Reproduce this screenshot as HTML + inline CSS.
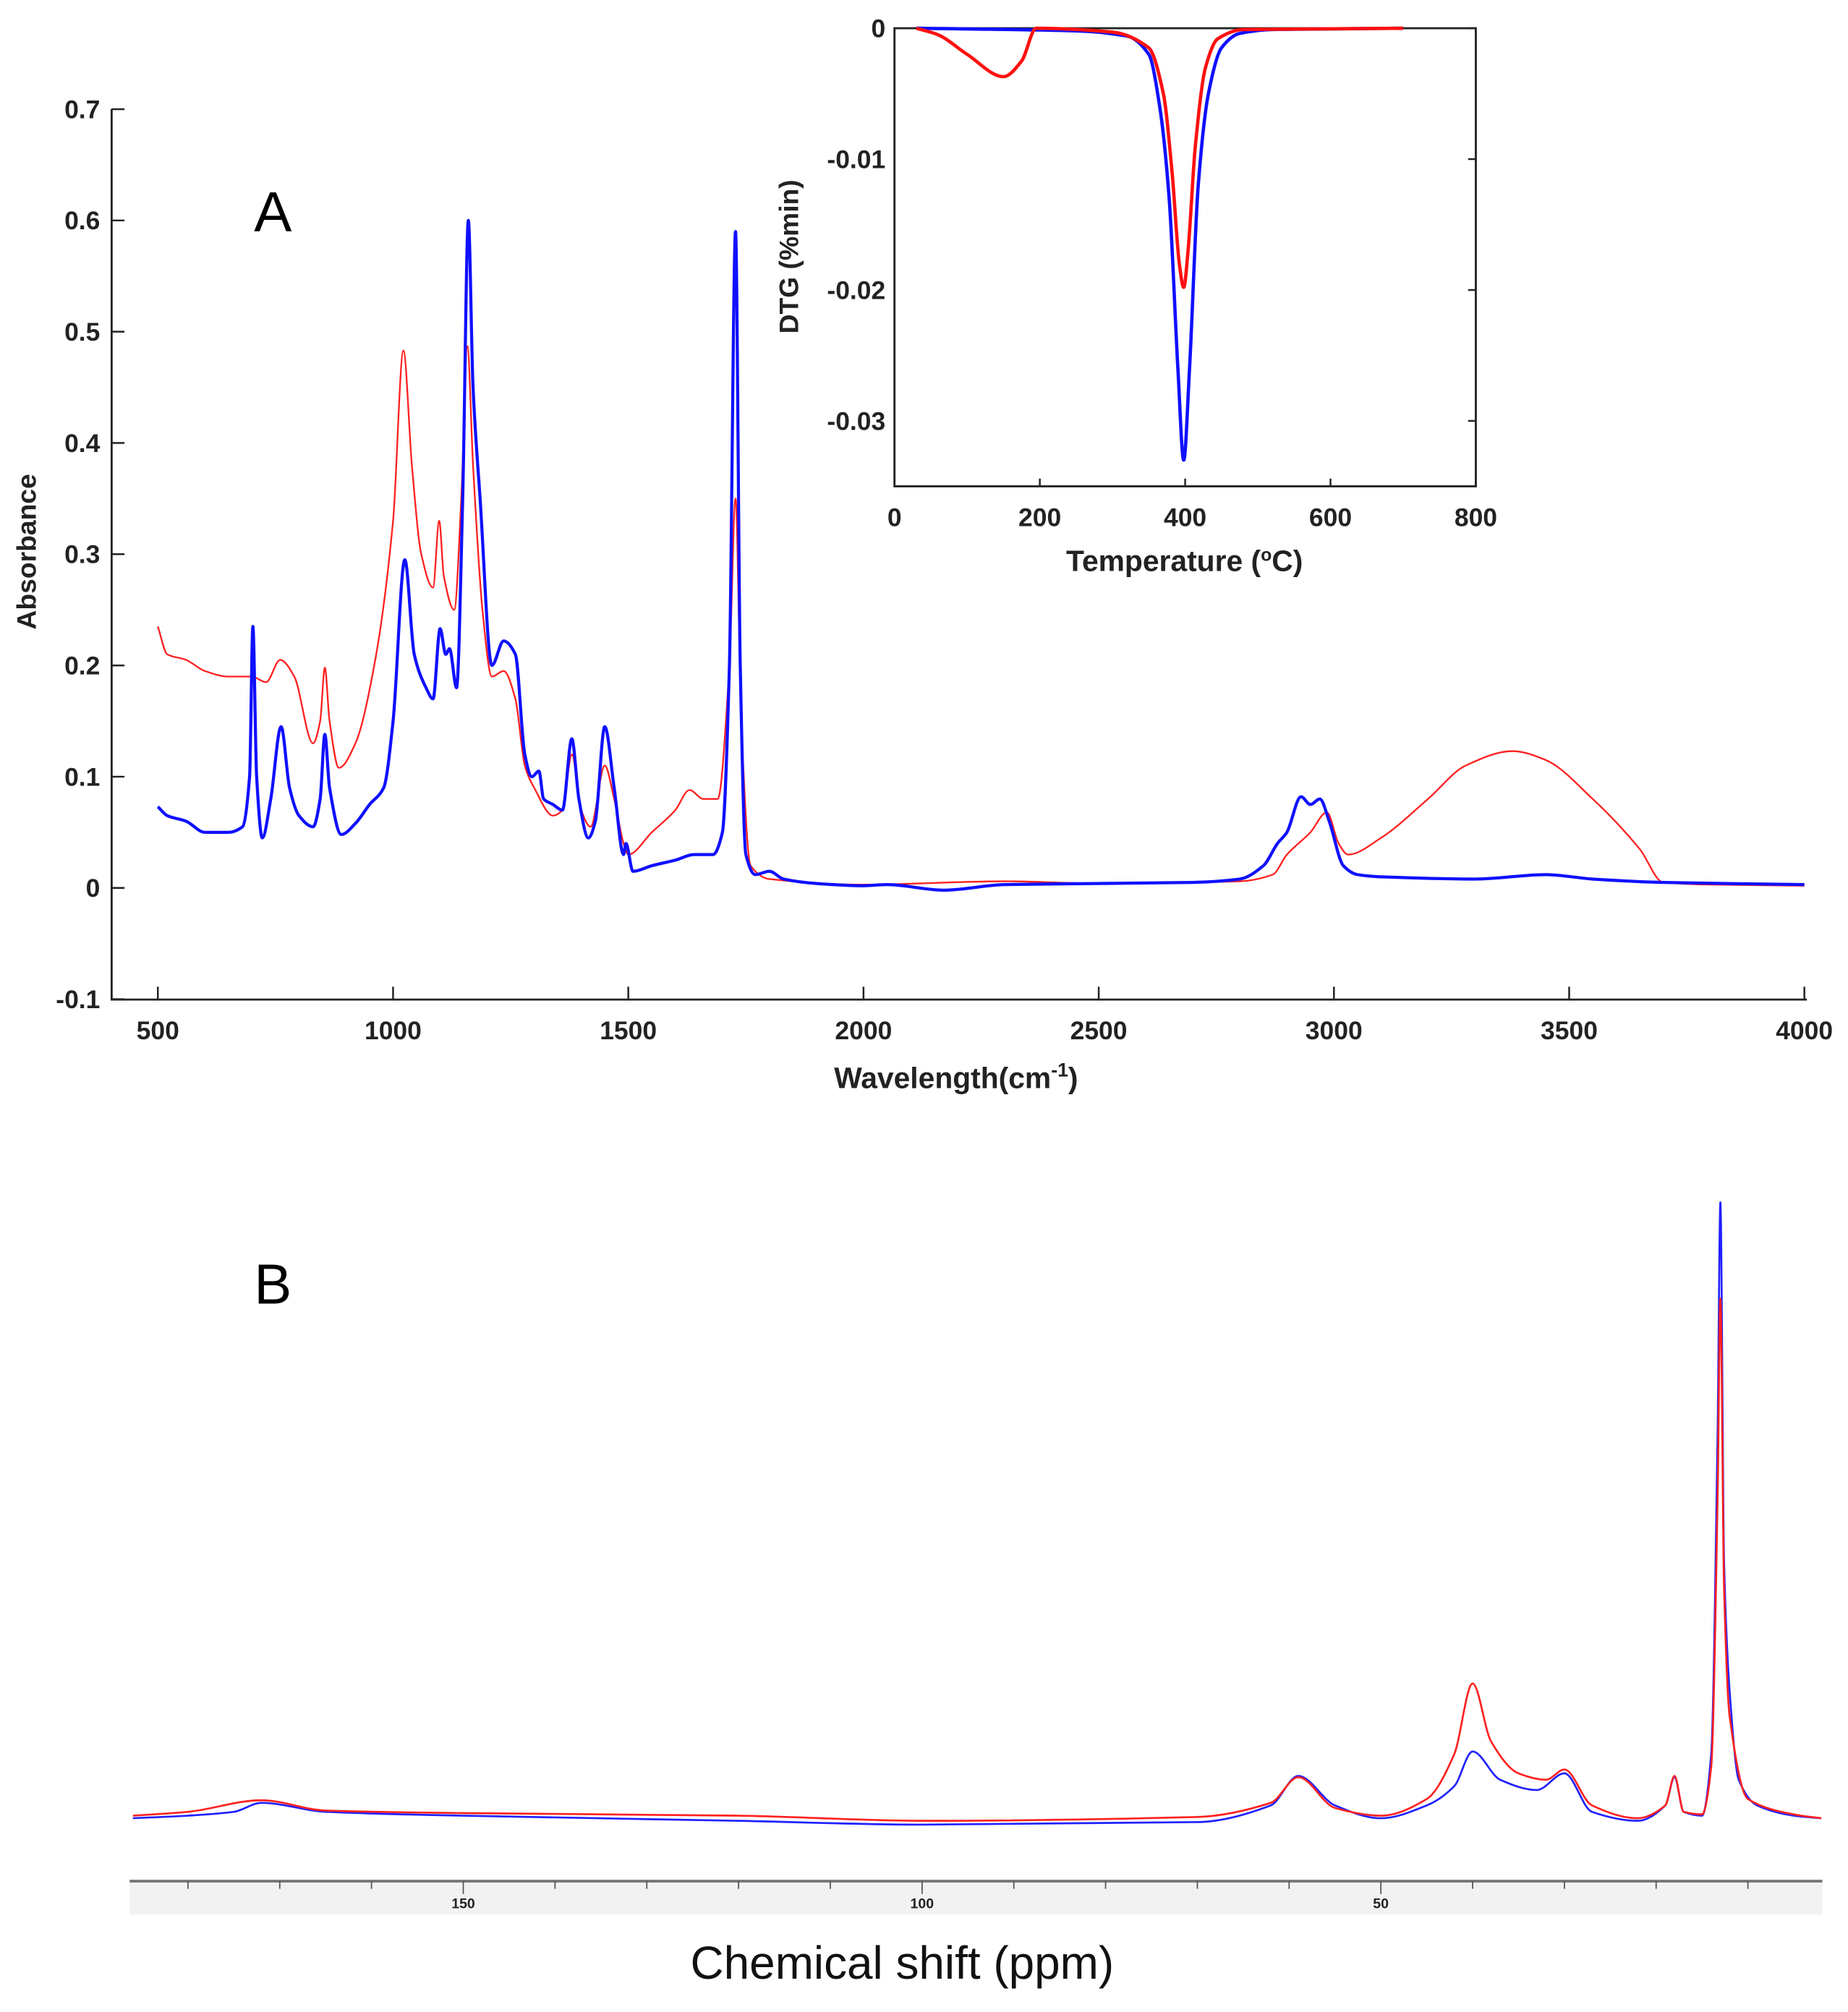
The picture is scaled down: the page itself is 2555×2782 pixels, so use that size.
<!DOCTYPE html>
<html><head><meta charset="utf-8"><style>html,body{margin:0;padding:0;background:#fff}svg{display:block}</style></head>
<body>
<svg id="fig" xmlns="http://www.w3.org/2000/svg" width="2555" height="2782" viewBox="0 0 1440 1568" preserveAspectRatio="none" font-family="Liberation Sans, Arial, sans-serif">
<rect width="1440" height="1568" fill="#fff"/>
<g id="A"></g>
<g id="I"></g>
<g id="B"></g>
</svg>
<script>
// ---------- FTIR data ----------
const ftirYTicks=[0.7,0.6,0.5,0.4,0.3,0.2,0.1,0,-0.1];
const ftirXTicks=[500,1000,1500,2000,2500,3000,3500,4000];
const ftirBlueX=[500,520,560,600,650,680,695,702,710,722,740,762,780,800,830,845,855,865,890,920,950,980,1000,1025,1045,1070,1085,1100,1112,1120,1135,1148,1160,1170,1185,1210,1235,1260,1280,1295,1310,1320,1340,1360,1380,1395,1415,1430,1450,1470,1490,1495,1510,1550,1600,1640,1680,1700,1715,1728,1738,1750,1770,1800,1830,1900,2000,2050,2170,2300,2500,2700,2800,2850,2880,2900,2930,2950,2970,2990,3020,3050,3100,3300,3450,3550,3700,4000];
const ftirBlueY=[0.073,0.065,0.06,0.05,0.05,0.055,0.1,0.235,0.1,0.045,0.08,0.145,0.09,0.065,0.055,0.08,0.138,0.09,0.048,0.058,0.075,0.09,0.15,0.295,0.21,0.18,0.17,0.233,0.21,0.215,0.18,0.35,0.6,0.45,0.35,0.2,0.222,0.21,0.12,0.1,0.105,0.08,0.075,0.07,0.134,0.08,0.045,0.06,0.145,0.09,0.03,0.04,0.015,0.02,0.025,0.03,0.03,0.05,0.2,0.59,0.2,0.03,0.012,0.015,0.008,0.004,0.002,0.003,-0.002,0.003,0.004,0.005,0.008,0.02,0.04,0.05,0.082,0.075,0.08,0.06,0.02,0.012,0.01,0.008,0.012,0.008,0.005,0.003];
const ftirRedX=[500,520,560,600,650,700,730,760,790,830,845,855,865,885,920,960,1000,1022,1040,1060,1085,1098,1108,1130,1145,1158,1170,1190,1210,1235,1260,1280,1300,1340,1360,1380,1400,1420,1450,1470,1490,1500,1550,1600,1630,1660,1690,1715,1728,1740,1760,1800,2000,2300,2500,2800,2870,2900,2950,2985,3010,3030,3100,3200,3280,3380,3450,3550,3650,3700,3800,4000];
const ftirRedY=[0.235,0.21,0.205,0.195,0.19,0.19,0.185,0.205,0.19,0.13,0.15,0.198,0.15,0.108,0.13,0.2,0.33,0.483,0.38,0.3,0.27,0.33,0.28,0.25,0.35,0.487,0.38,0.25,0.19,0.195,0.17,0.11,0.09,0.065,0.07,0.12,0.07,0.055,0.11,0.08,0.04,0.03,0.05,0.07,0.088,0.08,0.08,0.2,0.35,0.15,0.02,0.008,0.003,0.006,0.004,0.006,0.012,0.03,0.05,0.068,0.04,0.03,0.045,0.08,0.11,0.123,0.115,0.08,0.035,0.005,0.003,0.002];
// ---------- DTG inset data ----------
const dtgXTicks=[0,200,400,600,800];
const dtgYTicks=[0,-0.01,-0.02,-0.03];
const dtgBlueT=[30,250,320,350,365,378,390,398,406,418,432,450,475,520,700];
const dtgBlueV=[0,-0.0002,-0.0006,-0.002,-0.006,-0.013,-0.026,-0.033,-0.026,-0.012,-0.005,-0.0015,-0.0004,-0.0001,0];
const dtgRedT=[30,60,100,150,175,195,300,350,370,382,392,398,404,414,428,445,480,700];
const dtgRedV=[0,-0.0005,-0.002,-0.0037,-0.0025,0,-0.0003,-0.0015,-0.005,-0.011,-0.018,-0.0198,-0.017,-0.009,-0.003,-0.0008,-0.0001,0];
// ---------- NMR data ----------
const nmrLabels=[150,100,50];
const nmrBluePpm=[186,180,175,172,165,150,120,100,70,62,59,55,50,45,42,40,37,33,30,27,22,19,18,17,15,14,13.3,13,12.6,12,11,9,5,2];
const nmrBlueI=[0,2,5,12,5,2,-2,-5,-3,10,33,10,0,10,25,52,30,22,35,5,-2,10,32,5,2,50,300,480,200,100,30,10,2,0];
const nmrRedPpm=[186,180,172,165,150,120,100,70,62,59,55,50,45,42,40,38,35,32,30,27,22,19,18,17,15,14,13.3,13,12.6,12,10,5,2];
const nmrRedI=[2,5,14,6,4,2,-2,1,12,32,8,2,15,50,105,60,35,30,38,10,0,10,33,5,3,40,250,405,180,80,15,3,0];

const NS='http://www.w3.org/2000/svg';
function mk(parent,tag,attrs,text){const e=document.createElementNS(NS,tag);for(const k in attrs)e.setAttribute(k,attrs[k]);if(text!==undefined)e.textContent=text;parent.appendChild(e);return e;}
// monotone cubic interpolation path
function pathFrom(xs,ys,fx,fy){
  let P=xs.map((x,i)=>[fx(x),fy(ys[i])]);
  if(P[0][0]>P[P.length-1][0])P.reverse();
  const n=P.length,d=[],m=[];
  for(let i=0;i<n-1;i++)d.push((P[i+1][1]-P[i][1])/(P[i+1][0]-P[i][0]));
  m[0]=d[0];m[n-1]=d[n-2];
  for(let i=1;i<n-1;i++){m[i]=(d[i-1]*d[i]<=0)?0:2/(1/d[i-1]+1/d[i]);}
  let s='M'+P[0][0].toFixed(2)+' '+P[0][1].toFixed(2);
  for(let i=0;i<n-1;i++){const h=(P[i+1][0]-P[i][0])/3;
    s+=' C'+(P[i][0]+h).toFixed(2)+' '+(P[i][1]+m[i]*h).toFixed(2)+' '+(P[i+1][0]-h).toFixed(2)+' '+(P[i+1][1]-m[i+1]*h).toFixed(2)+' '+P[i+1][0].toFixed(2)+' '+P[i+1][1].toFixed(2);}
  return s;
}

// ---- Panel A ----
const A=document.getElementById('A');
const ax=v=>123+(v-500)*(1406-123)/3500;
const ay=v=>692-v*867;
let e;
e=mk(A,'path',{d:'M87 85 L87 779 L1408 779',fill:'none',stroke:'#222','stroke-width':1.6});


ftirYTicks.forEach(t=>{
  e=mk(A,'line',{x1:87,x2:97,y1:ay(t),y2:ay(t),stroke:'#222','stroke-width':1.4});
  
  
  e=mk(A,'text',{x:78,y:ay(t)+7,'text-anchor':'end','font-size':20,'font-weight':'bold',fill:'#222'},t===0?'0':String(t));
  
  
});
ftirXTicks.forEach(t=>{
  e=mk(A,'line',{x1:ax(t),x2:ax(t),y1:779,y2:769,stroke:'#222','stroke-width':1.4});
  
  
  e=mk(A,'text',{x:ax(t),y:810,'text-anchor':'middle','font-size':20,'font-weight':'bold',fill:'#222'},String(t));
  
  
});
e=mk(A,'path',{d:pathFrom(ftirRedX,ftirRedY,ax,ay),fill:'none',stroke:'#ff2020','stroke-width':1.3});


e=mk(A,'path',{d:pathFrom(ftirBlueX,ftirBlueY,ax,ay),fill:'none',stroke:'#1010ff','stroke-width':2.4});


e=mk(A,'text',{x:745,y:848,'text-anchor':'middle','font-size':23,'font-weight':'bold',fill:'#222'});
e.innerHTML='Wavelength(cm<tspan dy="-9" font-size="15">-1</tspan><tspan dy="9">)</tspan>';


e=mk(A,'text',{x:28,y:430,'text-anchor':'middle','font-size':21,'font-weight':'bold',fill:'#222',transform:'rotate(-90 28 430)'},'Absorbance');


e=mk(A,'text',{x:198,y:180,'font-size':44,fill:'#000'},'A');



// ---- Inset ----
const I=document.getElementById('I');
const ix=v=>697+v*(1150-697)/800;
const iy=v=>22-v*10200;
e=mk(I,'rect',{x:697,y:22,width:453,height:357,fill:'#fff',stroke:'#222','stroke-width':1.6});


dtgXTicks.forEach(t=>{
  e=mk(I,'text',{x:ix(t),y:410,'text-anchor':'middle','font-size':20,'font-weight':'bold',fill:'#222'},String(t));
  
  
  e=mk(I,'line',{x1:ix(t),x2:ix(t),y1:379,y2:373,stroke:'#222','stroke-width':1.4});
  
  
});
dtgYTicks.forEach(t=>{
  e=mk(I,'text',{x:690,y:iy(t)+7,'text-anchor':'end','font-size':20,'font-weight':'bold',fill:'#222'},t===0?'0':String(t));
  
  
  e=mk(I,'line',{x1:1144,x2:1150,y1:iy(t),y2:iy(t),stroke:'#222','stroke-width':1.4});
  
  
});
e=mk(I,'path',{d:pathFrom(dtgBlueT,dtgBlueV,ix,iy),fill:'none',stroke:'#1010ff','stroke-width':2.6});


e=mk(I,'path',{d:pathFrom(dtgRedT,dtgRedV,ix,iy),fill:'none',stroke:'#ff1010','stroke-width':2.6});


e=mk(I,'text',{x:923,y:445,'text-anchor':'middle','font-size':23,'font-weight':'bold',fill:'#222'});
e.innerHTML='Temperature (<tspan dy="-8" font-size="14">o</tspan><tspan dy="8">C)</tspan>';


e=mk(I,'text',{x:622,y:200,'text-anchor':'middle','font-size':21,'font-weight':'bold',fill:'#222',transform:'rotate(-90 622 200)'},'DTG (%min)');



// ---- Panel B ----
const B=document.getElementById('B');
const bx=p=>1433.5-p*7.15;
const by=v=>1417-v;
e=mk(B,'rect',{x:101,y:1466,width:1319,height:26,fill:'#f2f2f2'});


e=mk(B,'line',{x1:101,x2:1420,y1:1466,y2:1466,stroke:'#777','stroke-width':2.2});


for(let p=10;p<=180;p+=10){
  const major=nmrLabels.indexOf(p)>=0;
  e=mk(B,'line',{x1:bx(p),x2:bx(p),y1:1466,y2:major?1476:1472,stroke:'#555','stroke-width':1});
  
  
}
nmrLabels.forEach(t=>{
  e=mk(B,'text',{x:bx(t),y:1487,'text-anchor':'middle','font-size':11,'font-weight':'bold',fill:'#222'},String(t));
  
  
});
e=mk(B,'path',{d:pathFrom(nmrBluePpm,nmrBlueI,bx,by),fill:'none',stroke:'#2020ff','stroke-width':1.5});


e=mk(B,'path',{d:pathFrom(nmrRedPpm,nmrRedI,bx,by),fill:'none',stroke:'#ff2020','stroke-width':1.5});


e=mk(B,'text',{x:703,y:1542,'text-anchor':'middle','font-size':36,fill:'#111'},'Chemical shift (ppm)');


e=mk(B,'text',{x:198,y:1016,'font-size':44,fill:'#000'},'B');


</script>
</body></html>
